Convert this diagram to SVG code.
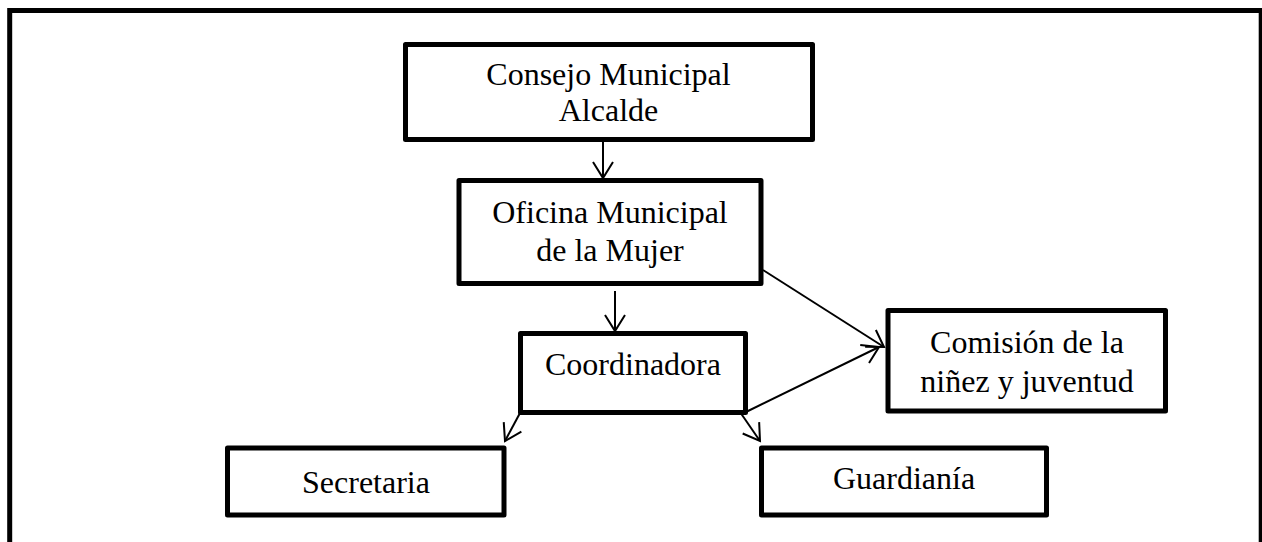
<svg xmlns="http://www.w3.org/2000/svg" width="1262" height="542" viewBox="0 0 1262 542">
<style>
.box{fill:#fff;stroke:#000;stroke-width:5;stroke-linejoin:round}
.lbl{font-family:"Liberation Serif","Times New Roman",serif;font-size:32px;fill:#000;text-anchor:middle}
.con{stroke:#000;stroke-width:2;fill:none;marker-end:url(#ah)}
</style>
<defs>
<marker id="ah" markerUnits="userSpaceOnUse" markerWidth="40" markerHeight="40" viewBox="-20 -20 40 40" refX="0" refY="0" orient="auto">
<path d="M-16,-10 L0,0 L-16,10" fill="none" stroke="#000" stroke-width="2"/>
</marker>
</defs>
<rect x="0" y="0" width="1262" height="542" fill="#fff"/>
<rect id="frame" x="9.7" y="10.5" width="1251.5" height="600" fill="none" stroke="#000" stroke-width="5"/>
<g id="connectors">
<line class="con" x1="603" y1="142" x2="603" y2="178"/>
<line class="con" x1="615" y1="291" x2="615" y2="331"/>
<line class="con" x1="763" y1="270" x2="884" y2="347"/>
<line class="con" x1="746" y1="412" x2="879" y2="347"/>
<line class="con" x1="520" y1="413" x2="505" y2="441"/>
<line class="con" x1="740" y1="412" x2="760" y2="441"/>
</g>
<g id="consejo">
<rect class="box" x="405.5" y="44.5" width="407" height="95"/>
<text class="lbl" x="608.5" y="85">Consejo Municipal</text>
<text class="lbl" x="608.5" y="121">Alcalde</text>
</g>
<g id="oficina">
<rect class="box" x="459" y="180.5" width="302" height="103"/>
<text class="lbl" x="610" y="223">Oficina Municipal</text>
<text class="lbl" x="610" y="261">de la Mujer</text>
</g>
<g id="coordinadora">
<rect class="box" x="520.5" y="333.5" width="225" height="79"/>
<text class="lbl" x="633" y="375">Coordinadora</text>
</g>
<g id="comision">
<rect class="box" x="888" y="310.5" width="277.5" height="100.5"/>
<text class="lbl" x="1027" y="353">Comisión de la</text>
<text class="lbl" x="1027" y="392">niñez y juventud</text>
</g>
<g id="secretaria">
<rect class="box" x="227.5" y="448" width="276.5" height="67"/>
<text class="lbl" x="366" y="493">Secretaria</text>
</g>
<g id="guardiania">
<rect class="box" x="761.5" y="448" width="285" height="67"/>
<text class="lbl" x="904" y="489">Guardianía</text>
</g>
</svg>
